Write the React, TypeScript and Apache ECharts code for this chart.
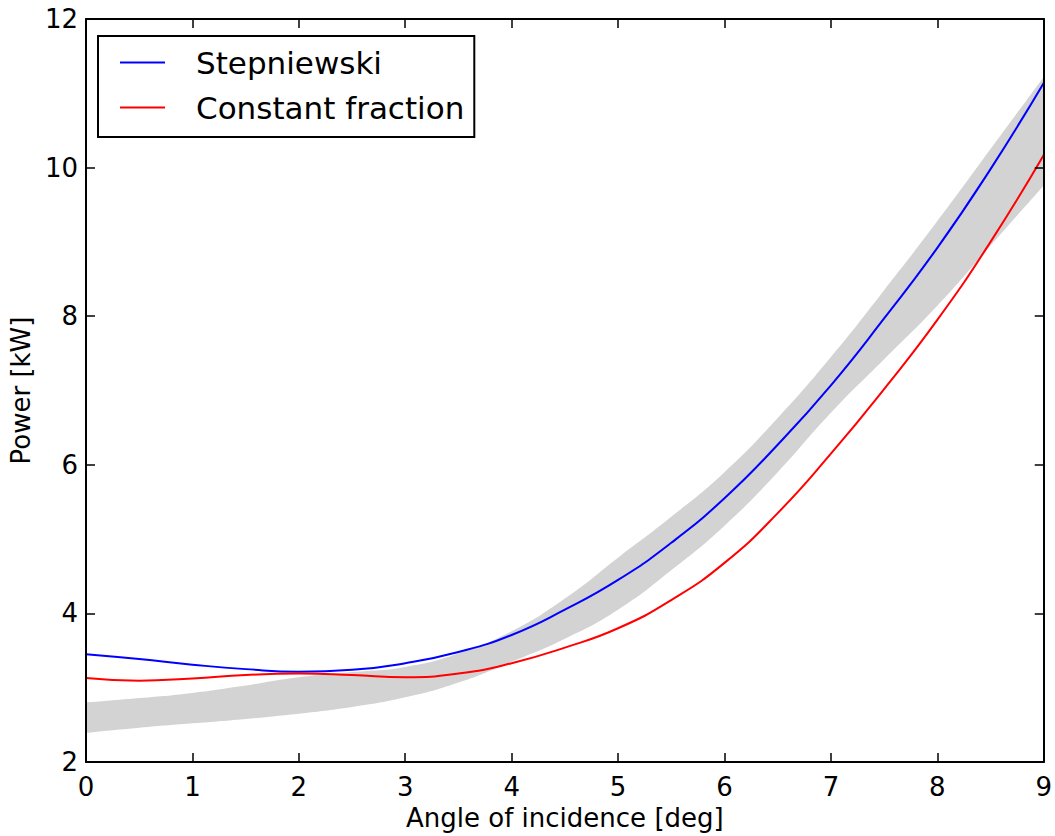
import React, { useEffect, useRef } from "react";
import * as echarts from "echarts";

const xs = [0, 0.5, 1, 1.5, 2, 2.5, 3, 3.5, 4, 4.5, 5, 5.5, 6, 6.5, 7, 7.5, 8, 8.5, 9];
const stepniewski = [3.45, 3.385, 3.31, 3.25, 3.215, 3.24, 3.33, 3.48, 3.71, 4.05, 4.45, 4.95, 5.55, 6.27, 7.07, 7.97, 8.92, 9.98, 11.14];
const constantFraction = [3.13, 3.095, 3.125, 3.17, 3.19, 3.17, 3.14, 3.19, 3.33, 3.54, 3.8, 4.18, 4.68, 5.35, 6.15, 7.02, 7.95, 9.0, 10.17];
const bandUpper = [2.8, 2.86, 2.93, 3.03, 3.14, 3.21, 3.28, 3.46, 3.76, 4.2, 4.75, 5.3, 5.9, 6.63, 7.45, 8.35, 9.28, 10.25, 11.22];
const bandLower = [2.39, 2.46, 2.52, 2.58, 2.65, 2.74, 2.87, 3.07, 3.35, 3.66, 4.05, 4.58, 5.18, 5.9, 6.7, 7.42, 8.14, 8.95, 9.76];
const xTicks = { min: 0, max: 9, interval: 1 };
const yTicks = { min: 2, max: 12, interval: 2 };

const FONT = "DejaVu Sans";

export default function App() {
  const ref = useRef<HTMLDivElement>(null);
  useEffect(() => {
    if (!ref.current) return;
    const chart = echarts.init(ref.current, undefined, { renderer: "svg" });
    const pairs = (ys: number[]) => xs.map((x, i) => [x, ys[i]]);
    const axisLine = { show: true, onZero: false, lineStyle: { color: "#000", width: 2 } };
    const axisTick = { show: true, inside: true, length: 9, lineStyle: { color: "#000", width: 1.5 } };
    const label = { color: "#000", fontSize: 26, fontFamily: FONT };
    chart.setOption({
      animation: false,
      backgroundColor: "#fff",
      grid: { left: 83, right: 9, top: 19, bottom: 71, containLabel: false },
      legend: {
        data: ["Stepniewski", "Constant fraction"],
        orient: "vertical",
        left: 98,
        top: 36,
        padding: [11, 10, 14, 22],
        itemGap: 14,
        itemWidth: 45,
        itemHeight: 2,
        icon: "rect",
        borderColor: "#000",
        borderWidth: 2,
        backgroundColor: "#fff",
        textStyle: { fontSize: 31, fontFamily: FONT, color: "#000", padding: [0, 0, 0, 26] },
      },
      xAxis: [
        {
          type: "value",
          ...xTicks,
          position: "bottom",
          z: 10,
          axisLine,
          axisTick,
          splitLine: { show: false },
          axisLabel: { ...label, margin: 12 },
          name: "Angle of incidence [deg]",
          nameLocation: "middle",
          nameGap: 43,
          nameTextStyle: label,
        },
        {
          type: "value",
          ...xTicks,
          position: "top",
          z: 10,
          axisLine,
          axisTick,
          splitLine: { show: false },
          axisLabel: { show: false },
        },
      ],
      yAxis: [
        {
          type: "value",
          ...yTicks,
          position: "left",
          z: 10,
          axisLine,
          axisTick,
          splitLine: { show: false },
          axisLabel: { ...label, margin: 8 },
          name: "Power [kW]",
          nameLocation: "middle",
          nameGap: 48,
          nameTextStyle: label,
        },
        {
          type: "value",
          ...yTicks,
          position: "right",
          z: 10,
          axisLine,
          axisTick,
          splitLine: { show: false },
          axisLabel: { show: false },
        },
      ],
      series: [
        {
          name: "bandUpper",
          type: "line",
          smooth: true,
          symbol: "none",
          lineStyle: { width: 0, opacity: 0 },
          areaStyle: { color: "#d3d3d3", opacity: 1, origin: "start" },
          data: pairs(bandUpper),
          silent: true,
          z: 1,
        },
        {
          name: "bandLower",
          type: "line",
          smooth: true,
          symbol: "none",
          lineStyle: { width: 0, opacity: 0 },
          areaStyle: { color: "#ffffff", opacity: 1, origin: "start" },
          data: pairs(bandLower),
          silent: true,
          z: 1,
        },
        {
          name: "Stepniewski",
          type: "line",
          smooth: true,
          symbol: "none",
          color: "#0000ff",
          lineStyle: { color: "#0000ff", width: 2 },
          data: pairs(stepniewski),
          z: 3,
        },
        {
          name: "Constant fraction",
          type: "line",
          smooth: true,
          symbol: "none",
          color: "#ff0000",
          lineStyle: { color: "#ff0000", width: 2 },
          data: pairs(constantFraction),
          z: 3,
        },
      ],
    });
    return () => chart.dispose();
  }, []);
  return (
    <div
      ref={ref}
      style={{ position: "fixed", left: 0, top: 0, width: 1055, height: 836 }}
    />
  );
}
